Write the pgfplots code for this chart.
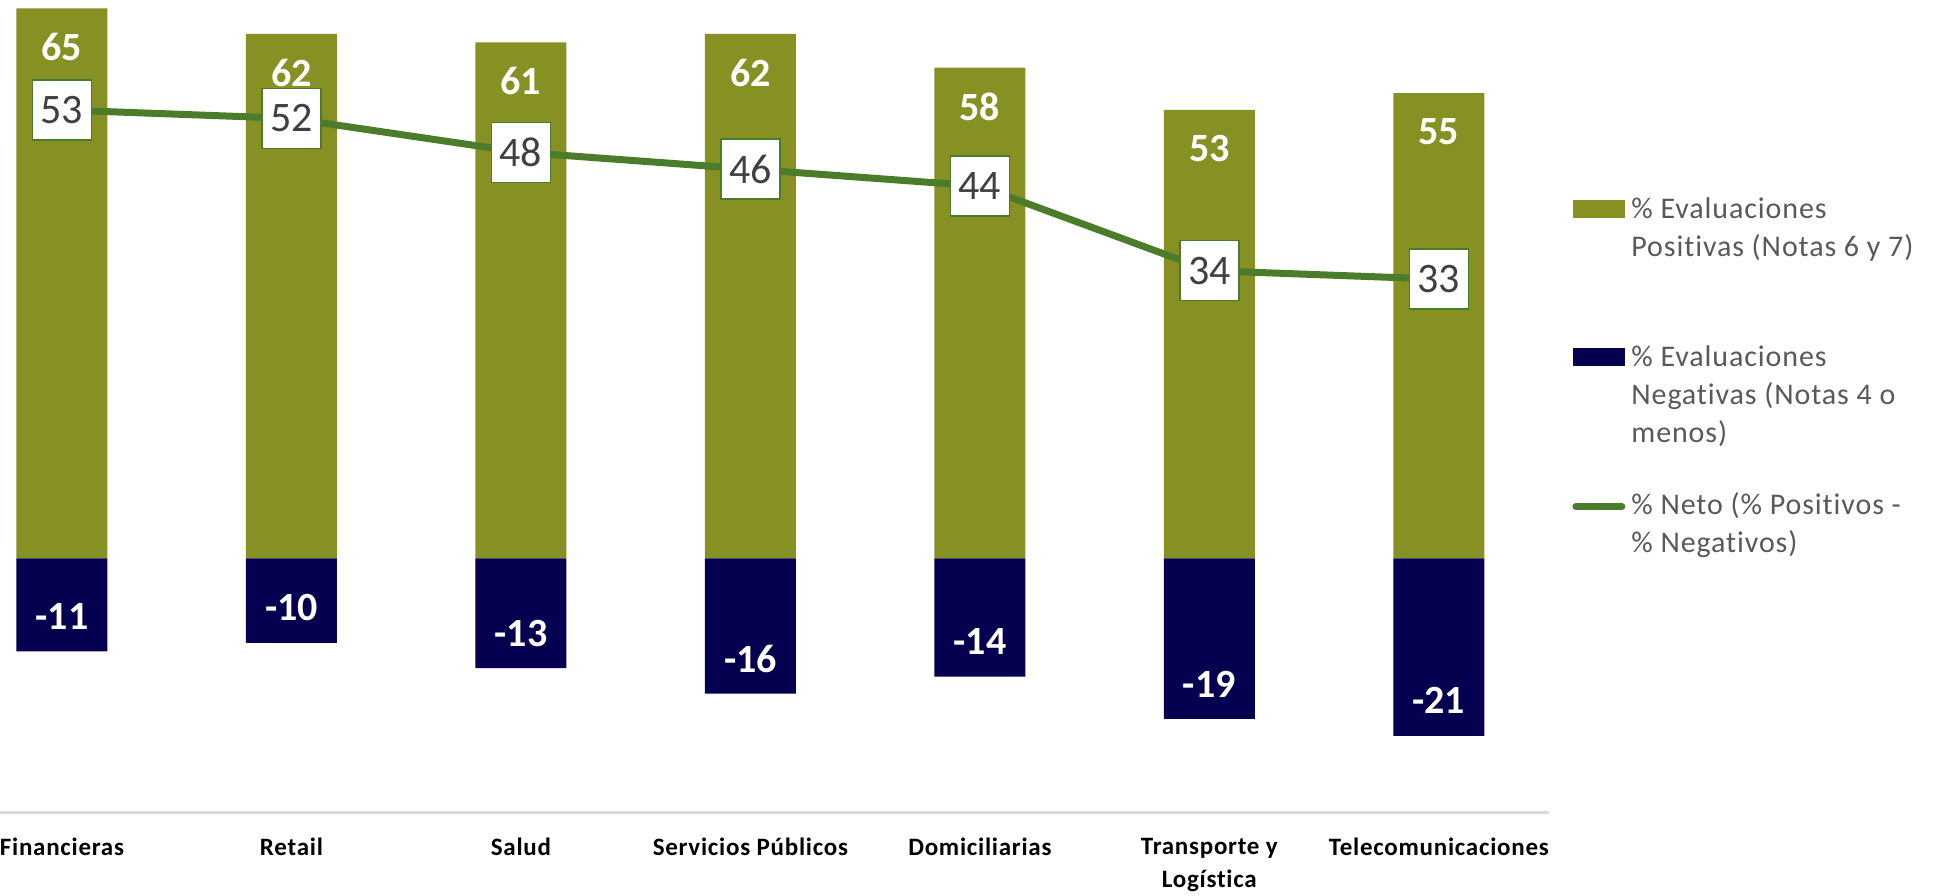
\documentclass[border=0pt]{standalone}
\usepackage{fontspec}
\setmainfont{Carlito}
\newfontfamily\legfont[LetterSpace=3, Ligatures=NoCommon]{Carlito}
\newfontfamily\tickfont[LetterSpace=3, Ligatures=NoCommon]{Carlito}
\usepackage{pgfplots}
\pgfplotsset{compat=1.18}
\definecolor{posc}{HTML}{879123}
\definecolor{negc}{HTML}{060050}
\definecolor{netc}{HTML}{4A7C2A}
\definecolor{axc}{HTML}{D9D9D9}
\definecolor{legtxt}{HTML}{595959}
\definecolor{lbltxt}{HTML}{404040}
\begin{document}
\begin{tikzpicture}
\path[use as bounding box] (0,-41.5pt) rectangle (969pt,406pt);
\begin{axis}[
  at={(0,0)}, anchor=south west,
  scale only axis, width=774.5pt, height=406pt,
  xmin=-0.27, xmax=6.48, ymin=-30, ymax=66,
  axis x line*=bottom, axis y line=none,
  x axis line style={draw=axc, line width=1.5pt, -},
  xtick=data,
  xticklabels={Financieras, Retail, Salud, Servicios Públicos, Domiciliarias, {Transporte y\\Logística}, Telecomunicaciones},
  major tick length=0pt, xtick style={draw=none},
  xticklabel style={align=center, font=\tickfont\fontsize{12.5}{16.5}\selectfont\bfseries, text=black, yshift=-9.4pt},
  ytick=\empty,
  clip=false,
  /pgf/number format/assume math mode=true,
  legend cell align=left,
  legend style={at={(1,1)}, anchor=north west, xshift=11.5pt, yshift=-98.5pt,
    draw=none, fill=none, inner sep=0pt, row sep=62pt, column sep=3pt,
    font=\legfont\fontsize{15}{19}\selectfont, text=legtxt, nodes={inner sep=0pt}},
]
\addplot[ybar, bar width=45.5pt, bar shift=0pt, fill=posc, draw=none,
  nodes near coords,
  every node near coord/.append style={anchor=center, yshift=-19.5pt, font=\fontsize{20}{20}\selectfont\bfseries, text=white},
  legend image code/.code={\fill[posc] (0pt,-4.5pt) rectangle (26pt,4.5pt);}]
  coordinates {(0,65) (1,62) (2,61) (3,62) (4,58) (5,53) (6,55)};
\addlegendentry{\parbox[t]{170pt}{\% Evaluaciones\\Positivas (Notas 6 y 7)}}
\addplot[ybar, bar width=45.5pt, bar shift=0pt, fill=negc, draw=none,
  nodes near coords,
  every node near coord/.append style={anchor=center, yshift=17.5pt, font=\fontsize{20}{20}\selectfont\bfseries, text=white},
  legend image code/.code={\fill[negc] (0pt,-4.5pt) rectangle (26pt,4.5pt);}]
  coordinates {(0,-11) (1,-10) (2,-13) (3,-16) (4,-14) (5,-19) (6,-21)};
\addlegendentry{\parbox[t]{170pt}{\% Evaluaciones\\Negativas (Notas 4 o\\menos)}}
\addplot[sharp plot, draw=netc, line width=3.5pt, mark=none,
  nodes near coords,
  every node near coord/.append style={anchor=center, fill=white, draw=netc, line width=0.75pt, inner sep=0pt, minimum width=29.5pt, minimum height=30pt, font=\fontsize{21}{21}\selectfont, text=lbltxt},
  legend image code/.code={\draw[netc, line width=3.5pt, line cap=round] (1.5pt,-0.5pt) -- (24.5pt,-0.5pt);}]
  coordinates {(0,53) (1,52) (2,48) (3,46) (4,44) (5,34) (6,33)};
\addlegendentry{\parbox[t]{170pt}{\% Neto (\% Positivos -\\\% Negativos)}}
\end{axis}
\end{tikzpicture}
\end{document}
